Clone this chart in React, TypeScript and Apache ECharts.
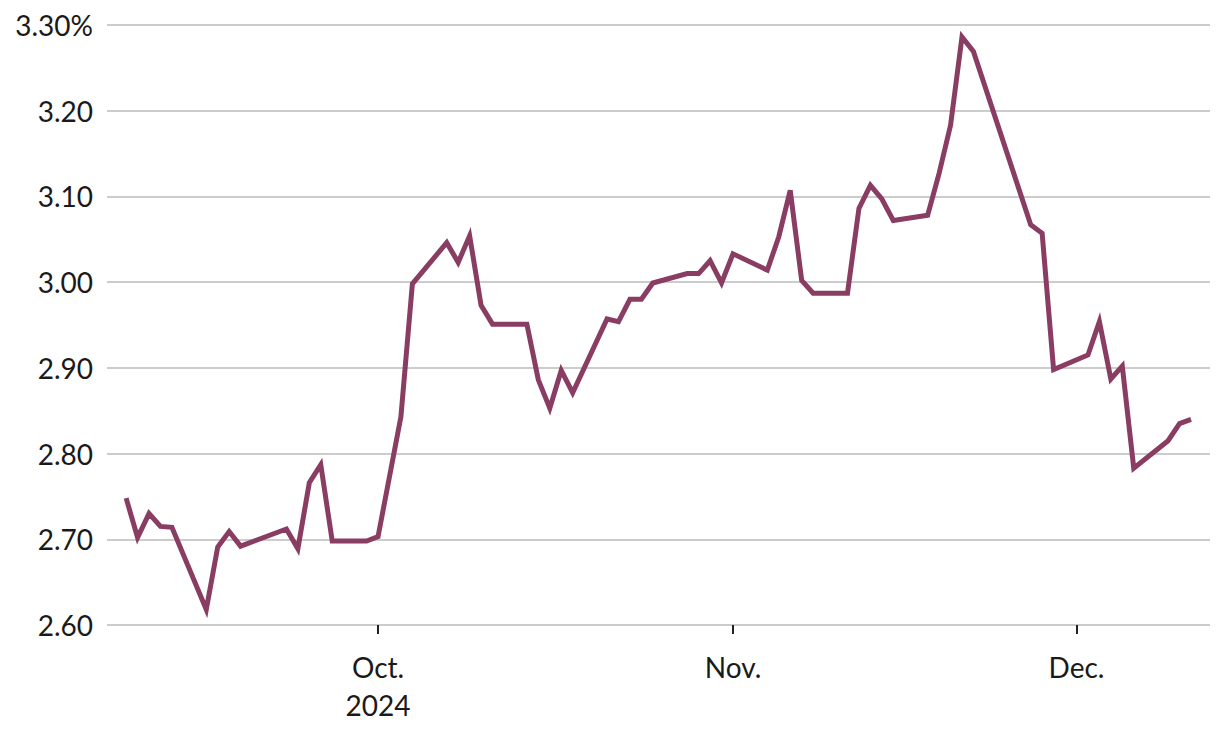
import React, { useEffect, useRef } from "react";
import * as echarts from "echarts";

const dates: string[] = [
  "2024-09-09", "2024-09-10", "2024-09-11", "2024-09-12", "2024-09-13",
  "2024-09-16", "2024-09-17", "2024-09-18", "2024-09-19",
  "2024-09-23", "2024-09-24", "2024-09-25", "2024-09-26", "2024-09-27",
  "2024-09-30", "2024-10-01", "2024-10-03", "2024-10-04",
  "2024-10-07", "2024-10-08", "2024-10-09", "2024-10-10", "2024-10-11",
  "2024-10-14", "2024-10-15", "2024-10-16", "2024-10-17", "2024-10-18",
  "2024-10-21", "2024-10-22", "2024-10-23", "2024-10-24", "2024-10-25",
  "2024-10-28", "2024-10-29", "2024-10-30", "2024-10-31", "2024-11-01",
  "2024-11-04", "2024-11-05", "2024-11-06", "2024-11-07", "2024-11-08",
  "2024-11-11", "2024-11-12", "2024-11-13", "2024-11-14", "2024-11-15",
  "2024-11-18", "2024-11-19", "2024-11-20", "2024-11-21", "2024-11-22",
  "2024-11-27", "2024-11-28", "2024-11-29",
  "2024-12-02", "2024-12-03", "2024-12-04", "2024-12-05", "2024-12-06",
  "2024-12-09", "2024-12-10", "2024-12-11",
];

const yields: number[] = [
  2.748, 2.702, 2.730, 2.715, 2.714,
  2.618, 2.691, 2.709, 2.692,
  2.712, 2.689, 2.766, 2.787, 2.698,
  2.698, 2.703, 2.843, 2.998,
  3.046, 3.023, 3.054, 2.973, 2.951,
  2.951, 2.886, 2.853, 2.897, 2.871,
  2.957, 2.954, 2.980, 2.980, 2.999,
  3.010, 3.010, 3.025, 2.999, 3.033,
  3.014, 3.053, 3.107, 3.002, 2.987,
  2.987, 3.086, 3.113, 3.097, 3.072,
  3.078, 3.127, 3.183, 3.286, 3.269,
  3.067, 3.057, 2.898,
  2.915, 2.954, 2.887, 2.902, 2.783,
  2.815, 2.835, 2.840,
];

const monthTicks: string[] = ["2024-10-01", "2024-11-01", "2024-12-01"];
const monthLabels: string[] = ["Oct.\n2024", "Nov.", "Dec."];

const yMin = 2.6;
const yMax = 3.3;
const yStep = 0.1;

const DAY = 86400000;
function toTime(s: string): number {
  const [y, m, d] = s.split("-").map(Number);
  return Date.UTC(y, m - 1, d);
}

export default function App() {
  const ref = useRef<HTMLDivElement | null>(null);

  useEffect(() => {
    if (!ref.current) return;
    const chart = echarts.init(ref.current, undefined, { renderer: "svg" });
    const tickTimes = monthTicks.map(toTime);
    const xMin = toTime("2024-09-07") + DAY * 0.33;
    const xMax = toTime("2024-12-12") + DAY * 0.66;
    const font = "Lato, 'Open Sans', sans-serif";

    chart.setOption({
      animation: false,
      grid: { left: 107, right: 10, top: 25, bottom: 105, containLabel: false },
      xAxis: {
        type: "value",
        min: xMin,
        max: xMax,
        axisLine: { show: false },
        splitLine: { show: false },
        axisTick: {
          show: true,
          customValues: tickTimes,
          length: 9,
          lineStyle: { color: "#222", width: 2 },
        },
        axisLabel: {
          customValues: tickTimes,
          margin: 23,
          fontSize: 28,
          lineHeight: 38,
          color: "#1a1a1a",
          fontFamily: font,
          formatter: (v: number) => {
            const idx = tickTimes.findIndex((t) => Math.abs(t - v) < DAY / 2);
            return idx >= 0 ? monthLabels[idx] : "";
          },
        },
      },
      yAxis: {
        type: "value",
        min: yMin,
        max: yMax,
        interval: yStep,
        axisLine: { show: false },
        axisTick: { show: false },
        splitLine: { show: true, lineStyle: { color: "#cccccc", width: 2 } },
        axisLabel: {
          margin: 14,
          fontSize: 28,
          color: "#1a1a1a",
          fontFamily: font,
          formatter: (v: number) =>
            Math.abs(v - yMax) < 1e-6 ? v.toFixed(2) + "%" : v.toFixed(2),
        },
      },
      series: [
        {
          type: "line",
          data: dates.map((d, i) => [toTime(d), yields[i]]),
          showSymbol: false,
          symbol: "none",
          lineStyle: { color: "#8a3d62", width: 5, join: "miter" },
          itemStyle: { color: "#8a3d62" },
        },
      ],
    });

    return () => chart.dispose();
  }, []);

  return (
    <div
      ref={ref}
      style={{ position: "absolute", left: 0, top: 0, width: 1220, height: 730, background: "#fff" }}
    />
  );
}
